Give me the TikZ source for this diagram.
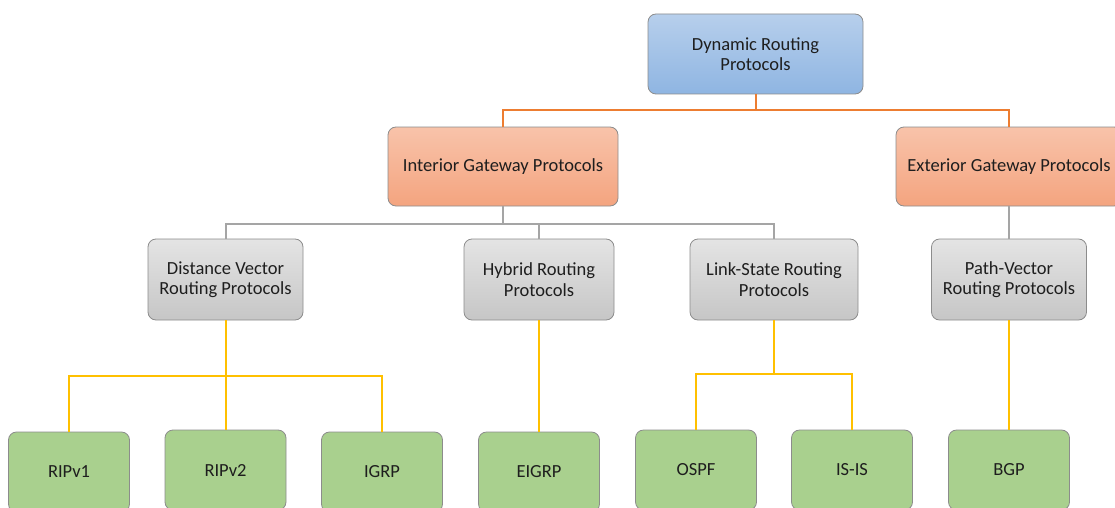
\documentclass[tikz,border=0pt]{standalone}
\usepackage{fontspec}
\setmainfont{Carlito}
\definecolor{blueTop}{HTML}{B7CFEC}
\definecolor{blueBot}{HTML}{8FB5E2}
\definecolor{orTop}{HTML}{F8C3AA}
\definecolor{orBot}{HTML}{F4A47F}
\definecolor{grTop}{HTML}{E4E4E4}
\definecolor{grBot}{HTML}{C6C6C6}
\definecolor{leafFill}{HTML}{A9D08E}
\definecolor{edgeGray}{HTML}{8C8C8C}
\definecolor{lineOrange}{HTML}{ED7D31}
\definecolor{lineGray}{HTML}{A5A5A5}
\definecolor{lineYellow}{HTML}{FFC000}
\definecolor{txt}{HTML}{1E1E1E}
\tikzset{
  box/.style={draw=edgeGray, line width=0.8pt, rounded corners=8pt,
    align=center, text=txt, font=\fontsize{18.5}{20.5}\selectfont, inner sep=0pt},
  rootbox/.style={box, top color=blueTop, bottom color=blueBot,
    minimum width=215pt, minimum height=80pt},
  classbox/.style={box, top color=orTop, bottom color=orBot,
    minimum width=230pt, minimum height=79pt},
  familybox/.style={box, top color=grTop, bottom color=grBot,
    minimum width=155pt, minimum height=81pt},
  leafbox/.style={box, fill=leafFill, minimum width=121pt, minimum height=80pt},
  orangelink/.style={draw=lineOrange, line width=2pt},
  graylink/.style={draw=lineGray, line width=2pt},
  yellowlink/.style={draw=lineYellow, line width=2pt},
}
\begin{document}
\begin{tikzpicture}[x=1pt, y=-1pt]
\useasboundingbox (0,0) rectangle (1115,508);
\clip (0,0) rectangle (1115,508);

% root
\node[rootbox] (dyn) at (755.5,54) {Dynamic Routing\\Protocols};

% protocol classes
\node[classbox] (igp) at (503,166.5) {Interior Gateway Protocols};
\node[classbox, minimum width=226pt] (egp) at (1009,166.5) {Exterior Gateway Protocols};

% protocol families
\node[familybox] (dv) at (225.5,279.5) {Distance Vector\\Routing Protocols};
\node[familybox, minimum width=150pt] (hy) at (539,279.5) {Hybrid Routing\\Protocols};
\node[familybox, minimum width=168pt] (ls) at (774,279.5) {Link-State Routing\\Protocols};
\node[familybox] (pv) at (1009,279.5) {Path-Vector\\Routing Protocols};

% protocols
\node[leafbox] (rip1) at (69,472) {RIPv1};
\node[leafbox] (rip2) at (225.5,470) {RIPv2};
\node[leafbox] (igrp) at (382,472) {IGRP};
\node[leafbox] (eigrp) at (539,472) {EIGRP};
\node[leafbox] (ospf) at (696,470) {OSPF};
\node[leafbox] (isis) at (852,470) {IS-IS};
\node[leafbox] (bgp) at (1009,470) {BGP};

% root to classes
\path[orangelink] (dyn.south) -- (dyn.south |- 0,110);
\path[orangelink] (igp.north) -- (igp.north |- 0,110) -| (egp.north);

% classes to families
\path[graylink] (igp.south) -- (igp.south |- 0,224);
\path[graylink] (dv.north) -- (dv.north |- 0,224) -| (ls.north);
\path[graylink] (hy.north) -- (hy.north |- 0,224);
\path[graylink] (egp.south) -- (pv.north);

% families to protocols
\path[yellowlink] (dv.south) -- (dv.south |- 0,376);
\path[yellowlink] (rip1.north) -- (rip1.north |- 0,376) -| (igrp.north);
\path[yellowlink] (dv.south |- 0,376) -- (rip2.north);
\path[yellowlink] (hy.south) -- (eigrp.north);
\path[yellowlink] (ls.south) -- (ls.south |- 0,374);
\path[yellowlink] (ospf.north) -- (ospf.north |- 0,374) -| (isis.north);
\path[yellowlink] (pv.south) -- (bgp.north);
\end{tikzpicture}
\end{document}
